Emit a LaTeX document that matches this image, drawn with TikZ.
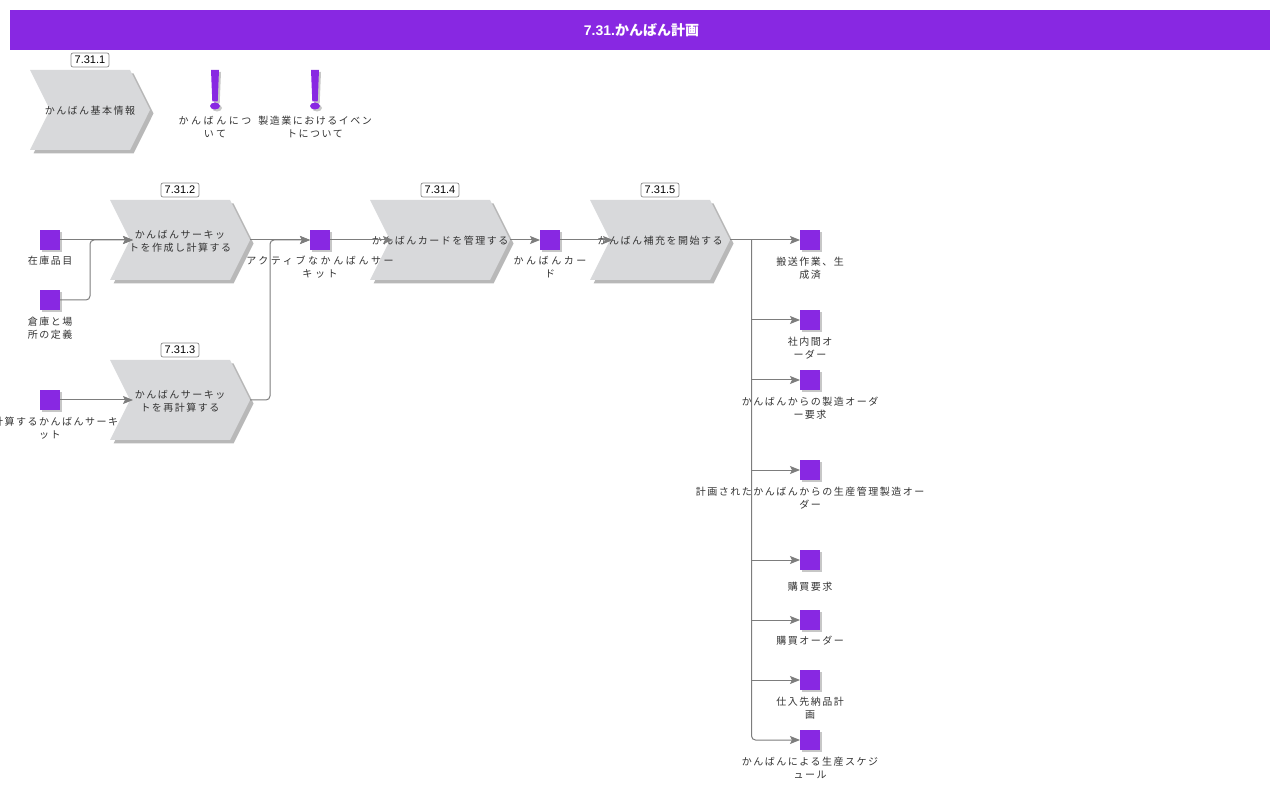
\documentclass[tikz,border=0pt]{standalone}
\usepackage{fontspec}
\usepackage{tikz}
\usetikzlibrary{shapes.symbols,shadows,arrows.meta}
\setmainfont{Liberation Sans}
\newfontfamily\cjk{Noto Sans CJK JP}
\newfontfamily\cjklbl[LetterSpace=15]{Noto Sans CJK JP}
\newfontfamily\cjkwide[LetterSpace=26]{Noto Sans CJK JP}
\definecolor{violetbar}{RGB}{136,40,226}
\definecolor{chevgray}{RGB}{216,217,219}
\definecolor{linegray}{RGB}{125,125,125}
\tikzset{
  process/.style={shape=signal, signal to=east, signal from=west, signal pointer angle=126.87,
    minimum width=#1, minimum height=80pt, inner sep=0pt, outer sep=0pt, fill=chevgray,
    drop shadow={shadow xshift=3.5pt, shadow yshift=-3.5pt, fill=black!28, opacity=1}},
  process/.default=140pt,
  proclabel/.style={inner sep=0pt, align=center, text=black!80, yshift=-1pt,
    font=\fontsize{10pt}{13pt}\cjklbl},
  dataobj/.style={minimum size=20pt, inner sep=0pt, outer sep=0pt, fill=violetbar,
    drop shadow={shadow xshift=2pt, shadow yshift=-2pt, fill=black!22, opacity=1}},
  caption/.style={anchor=north, inner sep=0pt, align=center, text=black!80, yshift=-1pt,
    font=\fontsize{10pt}{13pt}\cjklbl},
  widecaption/.style={caption, font=\fontsize{10pt}{13pt}\cjkwide},
  numtag/.style={draw=black!45, fill=white, rounded corners=2pt, line width=0.7pt,
    minimum width=38pt, minimum height=14pt, inner sep=0pt, font=\fontsize{11pt}{12pt}\selectfont},
  flow/.style={draw=linegray, line width=1pt, yshift=-0.5pt,
    -{Stealth[length=10pt,width=8pt,inset=2pt]}}
}
\begin{document}
\begin{tikzpicture}[x=1pt,y=-1pt]
\useasboundingbox (0,0) rectangle (1280,791);

% title
\node[fill=violetbar, minimum width=1260pt, minimum height=40pt, inner sep=0pt, text=white, text depth=0pt,
  font=\fontsize{14pt}{16pt}\selectfont\bfseries] (title) at (640,30) {\hspace{3pt}7.31.{\cjk かんばん計画}};

% functions
\node[process=120pt, label={[proclabel]center:かんばん基本情報}] (basics) at (90,110) {};
\node[process, label={[proclabel]center:かんばんサーキッ\\トを作成し計算する}] (create) at (180,240) {};
\node[process, label={[proclabel]center:かんばんサーキッ\\トを再計算する}] (recalc) at (180,400) {};
\node[process, label={[proclabel]center:かんばんカードを管理する}] (manage) at (440,240) {};
\node[process, label={[proclabel]center:かんばん補充を開始する}] (replen) at (660,240) {};

\node[numtag] (tagbasics) at (90,60) {7.31.1};
\node[numtag] (tagcreate) at (180,190) {7.31.2};
\node[numtag] (tagrecalc) at (180,350) {7.31.3};
\node[numtag] (tagmanage) at (440,190) {7.31.4};
\node[numtag] (tagreplen) at (660,190) {7.31.5};

% notes
\fill[black!22] (213,72) -- (221,72) -- (219.7,103.5) -- (214.3,103.5) -- cycle;
\fill[black!22] (217,108) ellipse (5 and 3.5);
\fill[violetbar] (211,70) -- (219,70) -- (217.7,101.5) -- (212.3,101.5) -- cycle;
\fill[violetbar] (215,106) ellipse (5 and 3.5);
\fill[black!22] (313,72) -- (321,72) -- (319.7,103.5) -- (314.3,103.5) -- cycle;
\fill[black!22] (317,108) ellipse (5 and 3.5);
\fill[violetbar] (311,70) -- (319,70) -- (317.7,101.5) -- (312.3,101.5) -- cycle;
\fill[violetbar] (315,106) ellipse (5 and 3.5);
\node[widecaption] (noteone) at (215,115) {かんばんにつ\\いて};
\node[caption] (notetwo) at (315,115) {製造業におけるイベン\\トについて};

% data objects
\node[dataobj] (stock) at (50,240) {};
\node[dataobj] (store) at (50,300) {};
\node[dataobj] (again) at (50,400) {};
\node[dataobj] (active) at (320,240) {};
\node[dataobj] (card) at (550,240) {};
\node[dataobj] (moved) at (810,240) {};
\node[dataobj] (internal) at (810,320) {};
\node[dataobj] (mfgreq) at (810,380) {};
\node[dataobj] (planned) at (810,470) {};
\node[dataobj] (purreq) at (810,560) {};
\node[dataobj] (purord) at (810,620) {};
\node[dataobj] (supply) at (810,680) {};
\node[dataobj] (sched) at (810,740) {};

\node[caption] (lstock) at (50,255) {在庫品目};
\node[caption] (lstore) at (50,316) {倉庫と場\\所の定義};
\node[caption] (lagain) at (50,416) {再計算するかんばんサーキ\\ット};
\node[widecaption] (lactive) at (320,255) {アクティブなかんばんサー\\キット};
\node[widecaption] (lcard) at (550,255) {かんばんカー\\ド};
\node[caption] (lmoved) at (810,256) {搬送作業、生\\成済};
\node[caption] (linternal) at (810,336) {社内間オ\\ーダー};
\node[caption] (lmfgreq) at (810,396) {かんばんからの製造オーダ\\ー要求};
\node[caption] (lplanned) at (810,486) {計画されたかんばんからの生産管理製造オー\\ダー};
\node[caption] (lpurreq) at (810,581) {購買要求};
\node[caption] (lpurord) at (810,635) {購買オーダー};
\node[caption] (lsupply) at (810,696) {仕入先納品計\\画};
\node[caption] (lsched) at (810,756) {かんばんによる生産スケジ\\ュール};

% connectors
\coordinate (joinstock) at (90,240);
\coordinate (joinactive) at (270,240);
\coordinate (bus) at (751.5,240);

\draw[flow, shorten >=-3pt] (stock.east) -- (create.west);
\draw[flow, shorten >=-3pt, rounded corners=4pt] (store.east) -- (store.east -| joinstock) -- (joinstock) -- (create.west);
\draw[flow, shorten >=-3pt] (again.east) -- (recalc.west);
\draw[flow] (create.east) -- (active.west);
\draw[flow, rounded corners=4pt] (recalc.east) -- (recalc.east -| joinactive) -- (joinactive) -- (active.west);
\draw[flow, shorten >=-3pt] (active.east) -- (manage.west);
\draw[flow] (manage.east) -- (card.west);
\draw[flow, shorten >=-3pt] (card.east) -- (replen.west);
\draw[flow] (replen.east) -- (moved.west);
\draw[flow] (bus |- internal.west) -- (internal.west);
\draw[flow] (bus |- mfgreq.west) -- (mfgreq.west);
\draw[flow] (bus |- planned.west) -- (planned.west);
\draw[flow] (bus |- purreq.west) -- (purreq.west);
\draw[flow] (bus |- purord.west) -- (purord.west);
\draw[flow] (bus |- supply.west) -- (supply.west);
\draw[flow, rounded corners=4pt] (bus) |- (sched.west);
\end{tikzpicture}
\end{document}
